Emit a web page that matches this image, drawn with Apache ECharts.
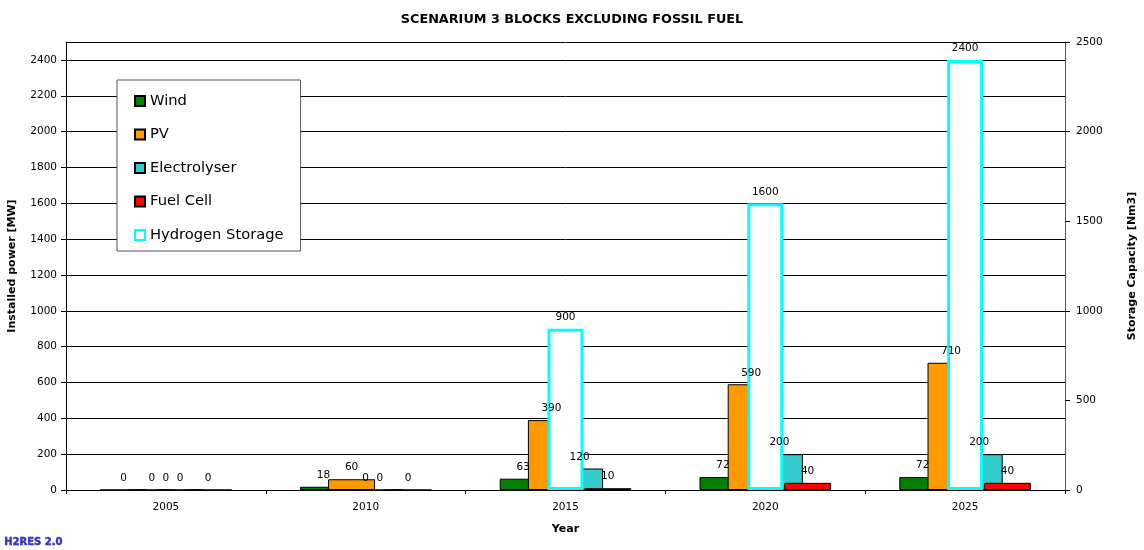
<!DOCTYPE html>
<html>
<head>
<meta charset="utf-8">
<title>Scenarium 3 blocks excluding fossil fuel</title>
<script src="https://cdn.jsdelivr.net/npm/echarts@6/dist/echarts.min.js"></script>
<style>
	html, body { margin: 0; padding: 0; background: #fff; }
	#chart { width: 1144px; height: 550px; }
</style>
</head>
<body>
<div id="chart"></div>
<script>
// chart data
var years = ['2005', '2010', '2015', '2020', '2025'];
var wind = [0, 18, 63, 72, 72];
var pv = [0, 60, 390, 590, 710];
var electrolyser = [0, 0, 120, 200, 200];
var fuelCell = [0, 0, 10, 40, 40];
var hydrogenStorage = [0, 0, 900, 1600, 2400];

// axis ranges
var powerMax = 2500, powerStep = 200;
var storageMax = 2500, storageStep = 500;

var FONT = 'DejaVu Sans';

var labelOpt = {
	show: true,
	position: 'top',
	distance: 6,
	color: '#000',
	fontSize: 10.5,
	fontFamily: FONT
};

// plain numbers, no thousands separator
var plain = function(v){ return String(v); };

function primaryBar(name, values, color){
	return {
		name: name,
		type: 'bar',
		xAxisIndex: 0,
		yAxisIndex: 0,
		barWidth: 47,
		barGap: '-40%',
		data: values,
		itemStyle: { color: color, borderColor: '#000', borderWidth: 1 },
		label: labelOpt
	};
}

// no cyan outline for empty storage bars
var storageData = hydrogenStorage.map(function(v){
	return v == 0 ? { value: v, itemStyle: { borderWidth: 0 } } : v;
});

var chart = echarts.init(document.getElementById('chart'), null, { renderer: 'canvas' });

chart.setOption({
	animation: false,
	backgroundColor: '#fff',
	textStyle: { fontFamily: FONT, color: '#000' },
	title: {
		text: 'SCENARIUM 3 BLOCKS EXCLUDING FOSSIL FUEL',
		left: 'center',
		top: 8,
		textStyle: { fontSize: 12.8, fontWeight: 'bold', fontFamily: FONT, color: '#000' }
	},
	grid: { left: 66, right: 79, top: 42, bottom: 60, containLabel: false, outerBoundsMode: 'none' },
	legend: {
		orient: 'vertical',
		left: 117,
		top: 80,
		padding: [13, 17, 8, 17],
		itemGap: 17.5,
		itemWidth: 10,
		itemHeight: 10,
		backgroundColor: '#fff',
		borderColor: '#555',
		borderWidth: 1,
		textStyle: { fontSize: 14.7, fontFamily: FONT, color: '#000', lineHeight: 16 },
		data: [
			{ name: 'Wind', icon: 'rect' },
			{ name: 'PV', icon: 'rect' },
			{ name: 'Electrolyser', icon: 'rect' },
			{ name: 'Fuel Cell', icon: 'rect' },
			{ name: 'Hydrogen Storage', icon: 'rect' }
		]
	},
	xAxis: [{
		type: 'category',
		data: years,
		name: 'Year',
		nameLocation: 'middle',
		nameGap: 34,
		nameTextStyle: { fontSize: 11, fontWeight: 'bold', fontFamily: FONT, color: '#000' },
		axisLine: { lineStyle: { color: '#000', width: 1 } },
		axisTick: { show: true, length: 4, alignWithLabel: false, lineStyle: { color: '#000' } },
		axisLabel: { fontSize: 10.5, color: '#000', margin: 12 },
		splitLine: { show: false }
	}, {
		type: 'category',
		data: years,
		show: false
	}],
	yAxis: [{
		type: 'value',
		min: 0,
		max: powerMax,
		interval: powerStep,
		name: 'Installed power [MW]',
		nameLocation: 'middle',
		nameGap: 48,
		nameTextStyle: { fontSize: 11, fontWeight: 'bold', fontFamily: FONT, color: '#000' },
		axisLine: { show: true, lineStyle: { color: '#000', width: 1 } },
		axisTick: { show: true, length: 5, lineStyle: { color: '#000' } },
		axisLabel: { fontSize: 10.5, color: '#000', margin: 9, showMaxLabel: false, formatter: plain },
		splitLine: { show: true, lineStyle: { color: '#000', width: 1 } }
	}, {
		type: 'value',
		min: 0,
		max: storageMax,
		interval: storageStep,
		position: 'right',
		name: 'Storage Capacity [Nm3]',
		nameLocation: 'middle',
		nameGap: 62,
		nameTextStyle: { fontSize: 11, fontWeight: 'bold', fontFamily: FONT, color: '#000' },
		axisLine: { show: true, lineStyle: { color: '#555', width: 1 } },
		axisTick: { show: true, length: 5, lineStyle: { color: '#000' } },
		axisLabel: { fontSize: 10.5, color: '#000', margin: 11, formatter: plain },
		splitLine: { show: false }
	}],
	series: [
		primaryBar('Wind', wind, '#008000'),
		primaryBar('PV', pv, '#FF9900'),
		primaryBar('Electrolyser', electrolyser, '#33CCCC'),
		primaryBar('Fuel Cell', fuelCell, '#FF0000'),
		{
			name: 'Hydrogen Storage',
			type: 'bar',
			xAxisIndex: 1,
			yAxisIndex: 1,
			barWidth: 36,
			data: storageData,
			itemStyle: { color: '#fff', borderColor: '#00FFFF', borderWidth: 3 },
			label: labelOpt
		}
	],
	graphic: [{
		type: 'text',
		left: 4,
		top: 537,
		style: {
			text: 'H2RES 2.0',
			fontSize: 10,
			fontWeight: 'bold',
			fontFamily: FONT,
			fill: '#3838d0',
			stroke: '#2020a0',
			lineWidth: 0.5
		}
	}]
});
</script>
</body>
</html>
